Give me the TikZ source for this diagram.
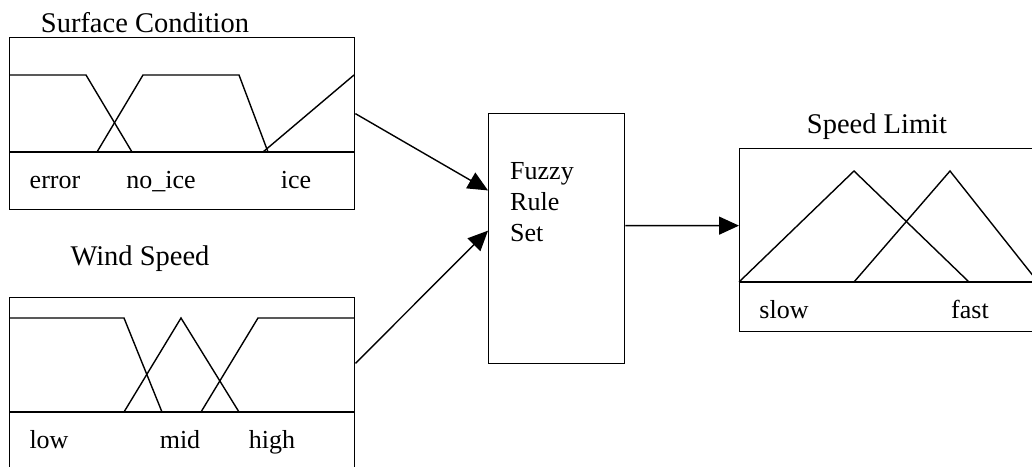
\documentclass[tikz,border=0pt]{standalone}
\usepackage{fontspec}
\setmainfont{Liberation Serif}
\usepackage{tikz}
\usetikzlibrary{positioning}
\usetikzlibrary{calc}
\usetikzlibrary{arrows.meta}
\pgfdeclarelayer{nodelayer}
\pgfdeclarelayer{edgelayer}
\pgfsetlayers{nodelayer,edgelayer,main}
\tikzset{
  mfbox/.style={draw, line width=1.4pt, inner sep=0pt, anchor=north west},
  mfline/.style={line width=1.4pt},
  lbl/.style={font=\fontsize{26}{31}\selectfont, inner sep=0pt, anchor=base},
  ttl/.style={font=\fontsize{28.5}{34}\selectfont, inner sep=0pt, anchor=base},
  arr/.style={line width=1.4pt, -{Triangle[length=20pt,width=18pt]}}
}

\begin{document}
\begin{tikzpicture}[x=1pt, y=-1pt]
  \useasboundingbox (0,0) rectangle (1032,466);
  \begin{pgfonlayer}{nodelayer}
    \node [mfbox, minimum width=345pt, minimum height=172pt] (surf) at (9,37) {};
    \node [mfbox, minimum width=345pt, minimum height=183pt] (wind) at (9,297) {};
    \node [mfbox, minimum width=136pt, minimum height=250pt] (rules) at (488,113) {};
    \node [mfbox, minimum width=306pt, minimum height=183pt] (speed) at (739,148) {};
    \node [ttl] (surftitle) at (145,32) {Surface Condition};
    \node [ttl] (windtitle) at (140,265) {Wind Speed};
    \node [ttl] (speedtitle) at (877,133) {Speed Limit};
    \node [lbl] (error) at (55,188) {error};
    \node [lbl] (noice) at (161,188) {no\_ice};
    \node [lbl] (ice) at (296,188) {ice};
    \node [lbl] (low) at (49,448) {low};
    \node [lbl] (mid) at (180,448) {mid};
    \node [lbl] (high) at (272,448) {high};
    \node [lbl] (slow) at (784,318) {slow};
    \node [lbl] (fast) at (970,318) {fast};
    \node [lbl, anchor=north west, align=left] (rulestext) at (510,162) {Fuzzy\\Rule\\Set};
  \end{pgfonlayer}
  \begin{pgfonlayer}{edgelayer}
    % label strips
    \draw [mfline] (surf.west |- 0,152) -- (surf.east |- 0,152);
    \draw [mfline] (wind.west |- 0,412) -- (wind.east |- 0,412);
    \draw [mfline] (speed.west |- 0,282) -- (speed.east |- 0,282);
    % surface condition sets
    \draw [mfline] (9,75) -- (86,75) -- (132,152);
    \draw [mfline] (97,152) -- (143,75) -- (239,75) -- (268,152);
    \draw [mfline] (263,152) -- (354,75);
    % wind speed sets
    \draw [mfline] (9,318) -- (124,318) -- (162,412);
    \draw [mfline] (124,412) -- (181,318) -- (239,412);
    \draw [mfline] (201,412) -- (258,318) -- (354,318);
    % speed limit sets
    \draw [mfline] (739,282) -- (854,171) -- (969,282);
    \draw [mfline] (854,282) -- (950,171) -- (1038,282);
    % arrows
    \draw [arr] ($(surf.north east)!0.442!(surf.south east)$) to ($(rules.north west)!0.308!(rules.south west)$);
    \draw [arr] ($(wind.north east)!0.36!(wind.south east)$) to ($(rules.north west)!0.468!(rules.south west)$);
    \draw [arr] ($(rules.north east)!0.448!(rules.south east)$) to ($(speed.north west)!0.421!(speed.south west)$);
  \end{pgfonlayer}
\end{tikzpicture}
\end{document}
